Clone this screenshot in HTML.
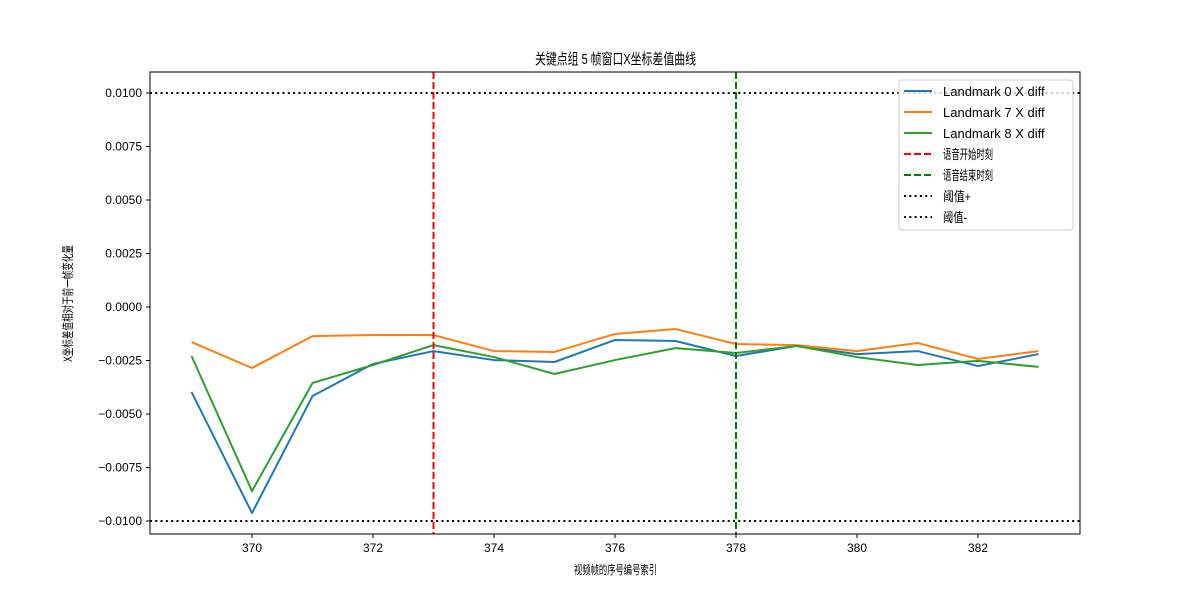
<!DOCTYPE html>
<html><head><meta charset="utf-8"><style>
body{margin:0;background:#fff;}
svg text{font-family:"Liberation Sans","DejaVu Sans","Noto Sans CJK SC",sans-serif;fill:#000;}
</style></head><body>
<svg id="chart" width="1200" height="600" xmlns="http://www.w3.org/2000/svg">
<rect width="1200" height="600" fill="#fff"/>
<text x="535" y="64" font-size="15" textLength="161" lengthAdjust="spacingAndGlyphs">关键点组 5 帧窗口X坐标差值曲线</text>
<g id="plot"></g>
<text x="574" y="574" font-size="12" textLength="83" lengthAdjust="spacingAndGlyphs">视频帧的序号编号索引</text>
<text transform="translate(72,362) rotate(-90)" font-size="12" textLength="117" lengthAdjust="spacingAndGlyphs">X坐标差值相对于前一帧变化量</text>
</svg>
<script>
const frames=[369,370,371,372,373,374,375,376,377,378,379,380,381,382,383];
const lm0=[-0.00397,-0.00963,-0.00416,-0.00266,-0.00206,-0.00248,-0.00257,-0.00154,-0.00159,-0.00229,-0.00182,-0.0022,-0.00206,-0.00276,-0.0022];
const lm7=[-0.00164,-0.00285,-0.00136,-0.00131,-0.00131,-0.00206,-0.0021,-0.00126,-0.00103,-0.00173,-0.00178,-0.00206,-0.00168,-0.00243,-0.00206];
const lm8=[-0.00229,-0.0086,-0.00355,-0.00271,-0.00178,-0.00234,-0.00313,-0.00248,-0.00192,-0.00215,-0.00182,-0.00234,-0.00271,-0.00252,-0.0028];
const xTicks=[370,372,374,376,378,380,382];
const yTicks=[0.01,0.0075,0.005,0.0025,0,-0.0025,-0.005,-0.0075,-0.01];
const startFrame=373, endFrame=378, thrPos=0.01, thrNeg=-0.01;
const L=150,R=1080,T=72,B=534;
const sx=v=>252+(v-370)*60.5;
const sy=v=>307-v*21400;
const NS="http://www.w3.org/2000/svg";
const g=document.getElementById('plot');
function mk(tag,attrs,parent){const e=document.createElementNS(NS,tag);for(const k in attrs)e.setAttribute(k,attrs[k]);(parent||g).appendChild(e);return e;}
let e=mk('line',{x1:L,x2:R,y1:sy(thrPos),y2:sy(thrPos),stroke:'#000','stroke-width':2,'stroke-dasharray':'2,3.3'});


e=mk('line',{x1:L,x2:R,y1:sy(thrNeg),y2:sy(thrNeg),stroke:'#000','stroke-width':2,'stroke-dasharray':'2,3.3'});


const series=[[lm0,'#1f77b4','landmark-0-line'],[lm7,'#ff7f0e','landmark-7-line'],[lm8,'#2ca02c','landmark-8-line']];
series.forEach(s=>{
 const pts=frames.map((f,i)=>sx(f)+','+sy(s[0][i])).join(' ');
 const p=mk('polyline',{points:pts,fill:'none',stroke:s[1],'stroke-width':2,'stroke-linejoin':'round'});
 
 
});
e=mk('line',{x1:sx(startFrame),x2:sx(startFrame),y1:T,y2:B,stroke:'#ff0000','stroke-width':2,'stroke-dasharray':'7,3'});


e=mk('line',{x1:sx(endFrame),x2:sx(endFrame),y1:T,y2:B,stroke:'#008000','stroke-width':2,'stroke-dasharray':'7,3'});


e=mk('rect',{x:L,y:T,width:R-L,height:B-T,fill:'none',stroke:'#000','stroke-width':1});


xTicks.forEach(t=>{
 mk('line',{x1:sx(t),x2:sx(t),y1:B,y2:B+4,stroke:'#000'});
 const tx=mk('text',{x:sx(t),y:B+18,'font-size':12,'text-anchor':'middle'});
 tx.textContent=t;
 
 
});
yTicks.forEach(t=>{
 mk('line',{x1:L-4,x2:L,y1:sy(t),y2:sy(t),stroke:'#000'});
 const tx=mk('text',{x:L-8,y:sy(t)+4,'font-size':12,'text-anchor':'end'});
 tx.textContent=(t<0?'\u2212':'')+Math.abs(t).toFixed(4);
 
 
});
const lg=mk('g',{});


mk('rect',{x:899,y:80,width:174,height:150,rx:3,fill:'#fff','fill-opacity':0.8,stroke:'#ccc'},lg);
const items=[['Landmark 0 X diff','#1f77b4',null,0],['Landmark 7 X diff','#ff7f0e',null,0],['Landmark 8 X diff','#2ca02c',null,0],['语音开始时刻','#ff0000','7,3',50],['语音结束时刻','#008000','7,3',50],['阈值+','#000','2,3.3',28],['阈值-','#000','2,3.3',24]];
items.forEach((it,i)=>{
 const y=91+i*21;
 const a={x1:904,x2:932,y1:y,y2:y,stroke:it[1],'stroke-width':2};
 if(it[2])a['stroke-dasharray']=it[2];
 mk('line',a,lg);
 const ta={x:943,y:y+5,'font-size':13};
 if(it[3]){ta.textLength=it[3];ta.lengthAdjust='spacingAndGlyphs';}
 const tx=mk('text',ta,lg);
 tx.textContent=it[0];
 
 
});
</script>
</body></html>
